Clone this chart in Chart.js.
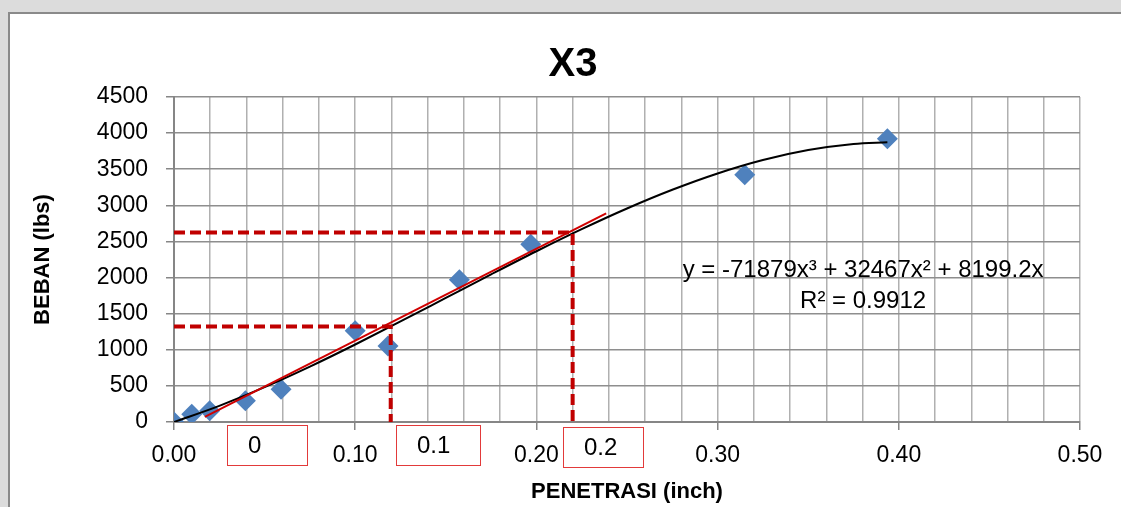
<!DOCTYPE html>
<html>
<head>
<meta charset="utf-8">
<script src="https://cdn.jsdelivr.net/npm/chart.js@4.4.0/dist/chart.umd.min.js"></script>
<style>
  html, body { margin: 0; padding: 0; background: #dcdcdc; overflow: hidden; }
  #wrap { position: absolute; left: 0; top: 0; width: 1121px; height: 507px; }
</style>
</head>
<body>
<div id="wrap"><canvas id="chart" width="1121" height="507"></canvas></div>
<script>
// penetrasi (inch) vs beban (lbs)
const penetrasi = [0, 0.0098, 0.0197, 0.0394, 0.0591, 0.1, 0.1181, 0.1575, 0.1969, 0.315, 0.3937];
const beban = [0, 107, 157, 295, 453, 1265, 1053, 1968, 2462, 3423, 3922];

// polynomial trendline
const trendX = [0, 0.025, 0.05, 0.075, 0.1, 0.125, 0.15, 0.175, 0.2, 0.225, 0.25, 0.275, 0.3, 0.325, 0.35, 0.375, 0.3937];
const trendY = [0, 224, 482, 767, 1073, 1392, 1718, 2044, 2364, 2670, 2956, 3215, 3441, 3627, 3765, 3850, 3874];

// red correction line
const koreksiX = [0.017, 0.2385];
const koreksiY = [70, 2890];

// dashed reading lines
const baca1X = [0, 0.1196, 0.1196];
const baca1Y = [1321, 1321, 0];
const baca2X = [0, 0.22, 0.22];
const baca2Y = [2623, 2623, 0];

// boxes under the axis
const kotakLabel = ['0', '0.1', '0.2'];
const kotakDari = [0.0292, 0.1225, 0.2147];
const kotakSampai = [0.0734, 0.1689, 0.2588];

const persamaan = ['y = -71879x\u00B3 + 32467x\u00B2 + 8199.2x', 'R\u00B2 = 0.9912'];
const persamaanX = 0.3803;
const persamaanY = [2106, 1677];

const judul = 'X3';
const FONT = "'Liberation Sans', Arial, sans-serif";

function pts(xs, ys) {
  return xs.map((x, i) => ({ x: x, y: ys[i] }));
}

function isMajor(v) {
  return Math.round(v * 100) % 10 === 0;
}

const frame = {
  id: 'frame',
  beforeDraw: function (chart) {
    const c = chart.ctx;
    c.save();
    c.fillStyle = '#dcdcdc';
    c.fillRect(0, 0, chart.width, chart.height);
    c.fillStyle = '#ffffff';
    c.fillRect(8, 12, chart.width, chart.height);
    c.strokeStyle = '#8a8a8a';
    c.lineWidth = 2;
    c.beginPath();
    c.moveTo(9, chart.height);
    c.lineTo(9, 13);
    c.lineTo(chart.width, 13);
    c.stroke();
    c.restore();
  }
};

const teks = {
  id: 'teks',
  afterDraw: function (chart) {
    const c = chart.ctx;
    const sx = chart.scales.x;
    const sy = chart.scales.y;
    const area = chart.chartArea;
    c.save();

    c.fillStyle = '#000';
    c.textAlign = 'center';
    c.textBaseline = 'middle';
    c.font = 'bold 40px ' + FONT;
    c.fillText(judul, 573, 65);

    c.font = '24px ' + FONT;
    persamaan.forEach(function (t, i) {
      c.fillText(t, sx.getPixelForValue(persamaanX), sy.getPixelForValue(persamaanY[i]));
    });

    kotakLabel.forEach(function (t, i) {
      const x0 = Math.round(sx.getPixelForValue(kotakDari[i]));
      const x1 = Math.round(sx.getPixelForValue(kotakSampai[i]));
      const top = Math.round(area.bottom) + 3 + (i === 2 ? 2 : 0);
      c.fillStyle = '#ffffff';
      c.fillRect(x0, top, x1 - x0, 40);
      c.strokeStyle = '#e23a3a';
      c.lineWidth = 1;
      c.strokeRect(x0 + 0.5, top + 0.5, x1 - x0, 40);
      c.fillStyle = '#000';
      c.textAlign = 'left';
      c.font = '24px ' + FONT;
      c.fillText(t, x0 + 21, top + 21);
    });
    c.restore();
  }
};

const ctx = document.getElementById('chart').getContext('2d');

new Chart(ctx, {
  type: 'scatter',
  data: {
    datasets: [
      {
        label: 'Beban',
        data: pts(penetrasi, beban),
        pointStyle: 'rectRot',
        pointRadius: 10.5,
        backgroundColor: '#4f81bd',
        borderWidth: 0,
        order: 5
      },
      {
        label: 'Poly',
        data: pts(trendX, trendY),
        showLine: true,
        borderColor: '#000000',
        borderWidth: 2,
        pointRadius: 0,
        cubicInterpolationMode: 'monotone',
        order: 3
      },
      {
        label: 'Koreksi',
        data: pts(koreksiX, koreksiY),
        showLine: true,
        borderColor: '#d00000',
        borderWidth: 2,
        pointRadius: 0,
        order: 2
      },
      {
        label: 'Baca1',
        data: pts(baca1X, baca1Y),
        showLine: true,
        borderColor: '#c00000',
        borderWidth: 4,
        borderDash: [11, 5],
        pointRadius: 0,
        order: 1
      },
      {
        label: 'Baca2',
        data: pts(baca2X, baca2Y),
        showLine: true,
        borderColor: '#c00000',
        borderWidth: 4,
        borderDash: [11, 5],
        pointRadius: 0,
        order: 1
      }
    ]
  },
  options: {
    responsive: false,
    animation: false,
    layout: { padding: { left: 0, top: 97, right: 41, bottom: 0 } },
    plugins: {
      legend: { display: false },
      tooltip: { enabled: false },
      title: { display: false }
    },
    scales: {
      x: {
        type: 'linear',
        min: 0,
        max: 0.5,
        ticks: {
          stepSize: 0.02,
          autoSkip: false,
          maxRotation: 0,
          padding: 12,
          color: '#000',
          font: { family: FONT, size: 23 },
          callback: function (v) { return isMajor(v) ? v.toFixed(2) : ''; }
        },
        grid: {
          color: '#b0b0b0',
          lineWidth: 1.5,
          tickLength: 8,
          tickColor: function (c) { return isMajor(c.tick.value) ? '#868686' : 'rgba(0,0,0,0)'; }
        },
        border: { color: '#868686', width: 2 },
        title: {
          display: true,
          text: 'PENETRASI (inch)',
          color: '#000',
          font: { family: FONT, size: 22, weight: 'bold' },
          padding: { top: 0, bottom: 2 }
        },
        afterFit: function (s) { s.height = 85; }
      },
      y: {
        min: 0,
        max: 4500,
        ticks: {
          stepSize: 500,
          padding: 18,
          color: '#000',
          font: { family: FONT, size: 23 },
          callback: function (v) { return String(v); }
        },
        grid: {
          color: '#8e8e8e',
          lineWidth: 1.5,
          tickLength: 8,
          tickColor: '#868686'
        },
        border: { color: '#868686', width: 2 },
        title: {
          display: true,
          text: 'BEBAN (lbs)',
          color: '#000',
          font: { family: FONT, size: 22, weight: 'bold' },
          padding: { top: 30, bottom: 0 }
        },
        afterFit: function (s) { s.width = 174; }
      }
    }
  },
  plugins: [frame, teks]
});
</script>
</body>
</html>
